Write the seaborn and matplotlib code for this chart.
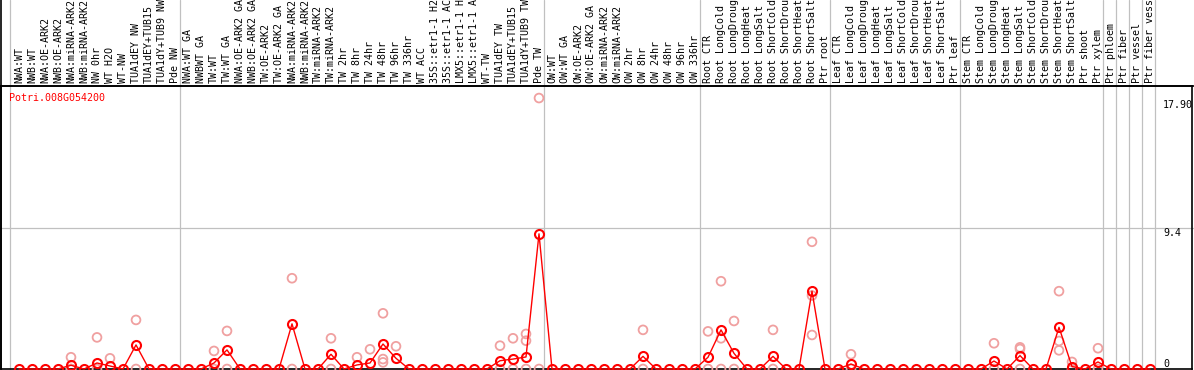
import numpy as np
import pandas as pd
import seaborn as sns
import matplotlib.pyplot as plt

gene_id = "Potri.008G054200"

labels = [
    # NW group
    "NWA:WT", "NWB:WT", "NWA:OE-ARK2", "NWB:OE-ARK2", "NWA:miRNA-ARK2", "NWB:miRNA-ARK2",
    "NW 0hr", "WT H2O", "WT-NW", "TUA1dEY NW", "TUA1dEY+TUB15", "TUA1dY+TUB9 NW", "Pde NW",
    # TW group
    "NWA:WT GA", "NWBWT GA", "TW:WT", "TW:WT GA", "NWA:OE-ARK2 GA", "NWB:OE-ARK2 GA",
    "TW:OE-ARK2", "TW:OE-ARK2 GA", "NWA:miRNA-ARK2", "NWB:miRNA-ARK2", "TW:miRNA-ARK2",
    "TW:miRNA-ARK2", "TW 2hr", "TW 8hr", "TW 24hr", "TW 48hr", "TW 96hr", "TW 336hr",
    "WT ACC", "35S::etr1-1 H2O", "35S::etr1-1 ACC", "LMX5::etr1-1 H2O", "LMX5::etr1-1 ACC",
    "WT-TW", "TUA1dEY TW", "TUA1dEY+TUB15", "TUA1dY+TUB9 TW", "Pde TW",
    # OW group
    "OW:WT", "OW:WT GA", "OW:OE-ARK2", "OW:OE-ARK2 GA", "OW:miRNA-ARK2", "OW:miRNA-ARK2",
    "OW 2hr", "OW 8hr", "OW 24hr", "OW 48hr", "OW 96hr", "OW 336hr",
    # root
    "Root CTR", "Root LongCold", "Root LongDrought", "Root LongHeat", "Root LongSalt",
    "Root ShortCold", "Root ShortDrought", "Root ShortHeat", "Root ShortSalt", "Ptr root",
    # leaf
    "Leaf CTR", "Leaf LongCold", "Leaf LongDrought", "Leaf LongHeat", "Leaf LongSalt",
    "Leaf ShortCold", "Leaf ShortDrought", "Leaf ShortHeat", "Leaf ShortSalt", "Ptr leaf",
    # stem + wood
    "Stem CTR", "Stem LongCold", "Stem LongDrought", "Stem LongHeat", "Stem LongSalt",
    "Stem ShortCold", "Stem ShortDrought", "Stem ShortHeat", "Stem ShortSalt", "Ptr shoot",
    "Ptr xylem", "Ptr phloem", "Ptr fiber", "Ptr vessel", "Ptr fiber vessel",
]

mean_expr = [
    0, 0, 0, 0, 0.25, 0, 0.4, 0.2, 0, 1.6, 0, 0, 0,
    0, 0, 0.4, 1.27, 0, 0, 0, 0, 3.0, 0, 0, 0.98, 0, 0.27, 0.4, 1.66, 0.71, 0,
    0, 0, 0, 0, 0, 0, 0.55, 0.66, 0.8, 8.98,
    0, 0, 0, 0, 0, 0, 0, 0.84, 0, 0, 0, 0,
    0.78, 2.6, 1.04, 0, 0, 0.84, 0, 0, 5.17, 0,
    0, 0.33, 0, 0, 0, 0, 0, 0, 0, 0,
    0, 0, 0.53, 0, 0.89, 0, 0, 2.77, 0.16, 0,
    0.47, 0, 0, 0, 0,
]

# replicate values by column position
rep_expr = {
    4: [0.78, 0, 0], 6: [2.1, 0], 7: [0.71], 9: [3.26, 0],
    15: [1.2, 0], 16: [2.53, 0], 21: [6.03, 0], 24: [2.04, 0], 26: [0.78],
    27: [1.31], 28: [3.7, 0.66, 0.44], 29: [1.51], 37: [1.55, 0], 38: [2.04, 0],
    39: [2.33, 1.88, 0], 40: [18.0, 0], 48: [2.6, 0], 53: [2.5, 0],
    54: [5.83, 2.04, 0], 55: [3.19, 0], 58: [2.6, 0], 61: [8.45, 4.88, 2.26],
    64: [0.98, 0], 75: [1.71, 0], 77: [1.44, 1.33, 0], 80: [5.17, 1.86, 1.24],
    81: [0.47, 0], 83: [1.38, 0],
}

group_ends = [12, 40, 52, 62, 72, 83, 84, 85, 86, 87]
y_top = 18.8
y_mid = 9.4
y_labels = [(17.90, "17.90", "top"), (9.4, "9.4", "top"), (0, "0", "bottom")]

RED = "#ff0000"
PINK = "#f0a0a0"
GREY = "#c0c0c0"

sns.set_style("white")
plt.rcParams["font.family"] = ["DejaVu Sans Mono"]

mean_df = pd.DataFrame({"pos": np.arange(len(labels)), "value": mean_expr})
rep_df = pd.DataFrame([(k, v) for k, vals in rep_expr.items() for v in vals],
                      columns=["pos", "value"])

W, H = 1194, 370
fig = plt.figure(figsize=(W / 100, H / 100), dpi=100)
ax = fig.add_axes([1 / W, 1 / H, 1191 / W, 283 / H])

# pixel x = 19 + 13 * pos
ax.set_xlim(-18 / 13, 1173 / 13)
ax.set_ylim(0, y_top)

top_frac = (H - 1) / 283
for g in group_ends:
    ax.axvline(g + 5 / 13, ymin=0, ymax=top_frac, color=GREY, lw=0.9, clip_on=False, zorder=0)
ax.axvline(-9 / 13, ymin=0, ymax=top_frac, color=GREY, lw=0.9, clip_on=False, zorder=0)
ax.axvline(-18 / 13, ymin=0, ymax=top_frac, color="black", lw=1.2, clip_on=False, zorder=1)
ax.axhline(y_mid, xmin=-0.002, xmax=1.002, color=GREY, lw=0.9, clip_on=False, zorder=0)
ax.axhline(y_top, xmin=-0.002, xmax=1.002, color="black", lw=1.2, clip_on=False, zorder=1)

sns.scatterplot(data=rep_df, x="pos", y="value", ax=ax, marker="o", s=40,
                facecolor="none", edgecolor=PINK, linewidth=1.3, clip_on=False, zorder=3)
sns.lineplot(data=mean_df, x="pos", y="value", ax=ax, color=RED, lw=1.0,
             marker="o", markersize=6.5, markerfacecolor="none", markeredgecolor=RED,
             markeredgewidth=1.5, clip_on=False, zorder=4)

for s in ax.spines.values():
    s.set_color("black")
    s.set_linewidth(1.2)

ax.set_xticks([])
ax.set_yticks([])
ax.set_xlabel("")
ax.set_ylabel("")

xtr = ax.get_xaxis_transform()
for i, lab in enumerate(labels):
    ax.text(i, 1 + 3 / 283, lab[:14], transform=xtr, rotation=90, ha="center",
            va="bottom", fontsize=7.2, color="black", clip_on=False)

for val, txt, va in y_labels:
    ax.text(1144 / 13, val, txt, ha="left", va=va, fontsize=7.2, color="black")

fig.text(9 / W, 1 - 98 / H, gene_id, color=RED, ha="left", va="center", fontsize=7.2)

fig.savefig("out.png", dpi=100)
